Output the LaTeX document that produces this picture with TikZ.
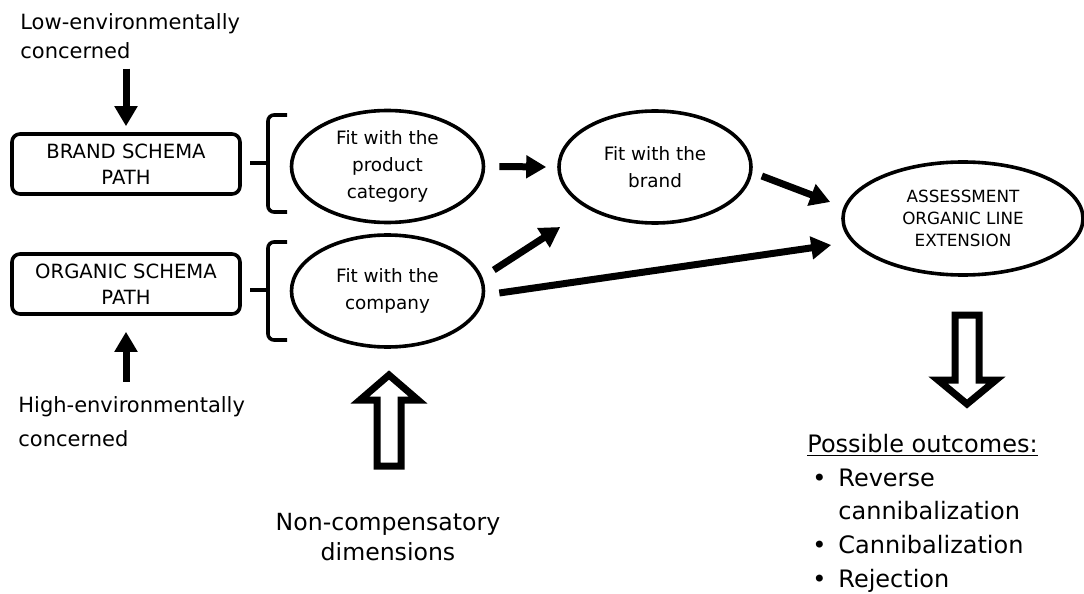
\documentclass[tikz,border=0pt]{standalone}
\usepackage{fontspec}
\setmainfont{DejaVu Sans}
\usepackage{tikz}
\usetikzlibrary{shapes.geometric,arrows.meta,calc}
\newcommand{\outitem}{\makebox[15.5pt][l]{\hspace{2.5pt}\textbullet}}
\newcommand{\outindent}{\hspace{15.5pt}}
\tikzset{
  pathbox/.style={draw,line width=1.8pt,rounded corners=4pt,minimum width=114pt,minimum height=30pt,
    inner sep=0pt,align=center,font=\fontsize{9.8}{13}\selectfont},
  fitoval/.style={ellipse,draw,line width=1.8pt,minimum width=96pt,minimum height=56pt,
    inner sep=0pt,align=center,font=\fontsize{9.2}{13.5}\selectfont},
  note/.style={inner sep=0pt,align=left},
  fatarrow/.style={line width=3.5pt,-{Triangle[length=10pt,width=11pt]}},
  hollow/.style={line width=3.5pt,line join=miter,fill=white},
  bracket/.style={line width=1.8pt,rounded corners=3pt}
}

\begin{document}
\begin{tikzpicture}[x=0.5pt,y=-0.5pt]
\useasboundingbox (0,0) rectangle (1084,594);
\node[note,anchor=base west,font=\fontsize{10.5}{14.5}\selectfont] (lowenv)  at (20,58)  {Low-environmentally\\concerned};
\node[pathbox]                                                        (brandpath) at (126,164) {BRAND SCHEMA\\PATH};
\node[pathbox]                                                        (orgpath)   at (126,284) {ORGANIC SCHEMA\\PATH};
\node[note,anchor=base west,font=\fontsize{10.5}{17}\selectfont]   (highenv) at (18,446) {High-environmentally\\concerned};
\node[fitoval]                                                        (prodfit)  at (387.5,166.5) {Fit with the\\product\\category};
\node[fitoval]                                                        (compfit)  at (387.5,291)   {Fit with the\\company};
\node[fitoval]                                                        (brandfit) at (655,167)     {Fit with the\\brand};
\node[fitoval,minimum width=120pt,minimum height=56.5pt,font=\fontsize{8.4}{11}\selectfont]
                                                                      (assess)   at (963,218.5) {ASSESSMENT\\ORGANIC LINE\\EXTENSION};
\node[align=center,inner sep=0pt,anchor=base,font=\fontsize{11.8}{15}\selectfont] (noncomp) at (388,560) {Non-compensatory\\dimensions};
\node[note,anchor=base west,font=\fontsize{12}{16.8}\selectfont]   (outcomes) at (807,587)
  {\underline{Possible outcomes:}\\\outitem Reverse\\\outindent cannibalization\\\outitem Cannibalization\\\outitem Rejection};
%
% brackets
\draw[bracket] (287,115) -- (268,115) -- (268,163) -- (268,212) -- (287,212);
\draw[bracket] (268,163) -- (250,163);
\draw[bracket] (287,242) -- (268,242) -- (268,290) -- (268,340) -- (287,340);
\draw[bracket] (268,290) -- (250,290);
%
\draw[fatarrow,shorten <=5pt,shorten >=3pt] (lowenv.south -| brandpath.north) -- (brandpath.north);
\draw[fatarrow,shorten <=7pt,shorten >=8pt] (highenv.north -| orgpath.south) -- (orgpath.south);
\path[fatarrow]
	($(prodfit.east)+(14,0)$)   edge ($(brandfit.west)+(-11,0)$)
	($(compfit.east)+(8.5,-21)$) edge ($(brandfit.west)+(3,60)$)
	($(compfit.east)+(14,2)$)   edge ($(assess.west)+(-10,26.5)$)
	($(brandfit.east)+(9,9)$)   edge ($(assess.west)+(-11,-16.5)$)
; %-path-%
%
% hollow arrows
\draw[hollow] (377,466) -- (377,400) -- (360,400) -- (389,375) -- (418,400) -- (401,400) -- (401,466) -- cycle;
\draw[hollow] (955,315) -- (955,380) -- (938,380) -- (967,404) -- (996,380) -- (979,380) -- (979,315) -- cycle;
\end{tikzpicture}
\end{document}
